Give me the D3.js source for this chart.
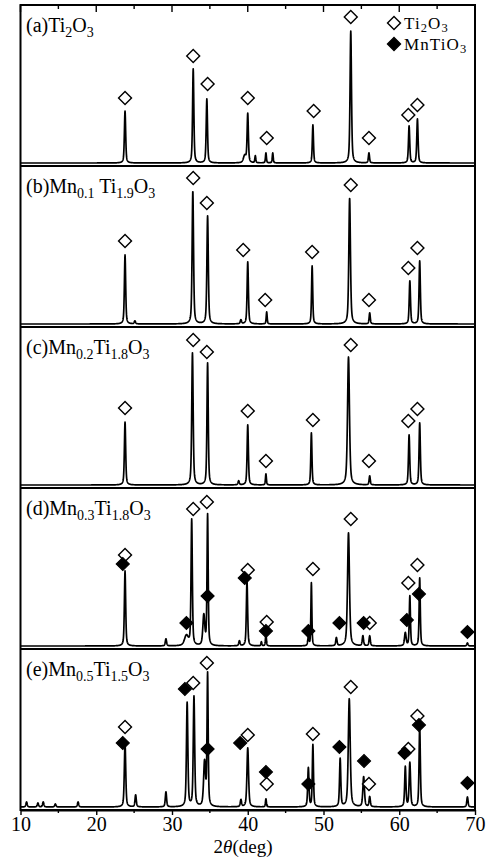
<!DOCTYPE html>
<html>
<head>
<meta charset="utf-8">
<script src="https://cdn.jsdelivr.net/npm/d3@7"></script>
<style>
  body { margin: 0; background: #fff; }
  svg { display: block; }
  text { font-family: "Liberation Serif", "Times New Roman", serif; fill: #000; }
</style>
</head>
<body>
<svg id="chart" width="487" height="863"></svg>
<script>
// ---- data -------------------------------------------------------------
const panelIds = ["a", "b", "c", "d", "e"];

// panel titles as [text, isSubscript] segments
const panelTitles = [
  [["(a)Ti", 0], ["2", 1], ["O", 0], ["3", 1]],
  [["(b)Mn", 0], ["0.1", 1], [" Ti", 0], ["1.9", 1], ["O", 0], ["3", 1]],
  [["(c)Mn", 0], ["0.2", 1], ["Ti", 0], ["1.8", 1], ["O", 0], ["3", 1]],
  [["(d)Mn", 0], ["0.3", 1], ["Ti", 0], ["1.8", 1], ["O", 0], ["3", 1]],
  [["(e)Mn", 0], ["0.5", 1], ["Ti", 0], ["1.5", 1], ["O", 0], ["3", 1]]
];

// diffraction peaks per sample: [2θ (deg), intensity, FWHM (deg)]
const peaksA = [
  [23.8, 52, 0.2], [32.8, 94, 0.2], [34.6, 64, 0.2], [39.6, 7, 0.4], [40.0, 49, 0.2],
  [41.0, 7, 0.15], [42.4, 10, 0.15], [43.3, 10, 0.15], [48.6, 38, 0.18],
  [53.6, 132, 0.22], [56.0, 10, 0.18], [61.3, 37, 0.2], [62.4, 44, 0.2]
];
const peaksB = [
  [23.8, 69, 0.2], [25.1, 3, 0.2], [32.75, 133, 0.22], [34.7, 108, 0.22], [39.1, 4, 0.2],
  [40.0, 62, 0.2], [42.5, 12, 0.15], [48.5, 58, 0.18], [53.45, 126, 0.25],
  [56.1, 11, 0.18], [61.4, 43, 0.2], [62.7, 63, 0.2]
];
const peaksC = [
  [23.8, 63, 0.2], [32.7, 132, 0.22], [34.7, 122, 0.2], [38.8, 4, 0.2], [40.0, 60, 0.2],
  [42.4, 11, 0.15], [48.4, 52, 0.18], [53.3, 128, 0.3], [56.1, 9, 0.18],
  [61.3, 50, 0.2], [62.7, 62, 0.2]
];
const peaksD = [
  [23.8, 75, 0.2], [29.2, 7, 0.2], [31.9, 10, 0.6], [32.6, 126, 0.2], [34.2, 30, 0.3],
  [34.7, 131, 0.18], [38.9, 5, 0.2], [39.9, 65, 0.2], [41.8, 4, 0.15], [42.4, 12, 0.15],
  [48.0, 8, 0.2], [48.4, 63, 0.15], [51.7, 8, 0.2], [53.3, 113, 0.3], [55.2, 10, 0.2],
  [56.1, 10, 0.2], [60.8, 13, 0.25], [61.4, 50, 0.18], [62.7, 68, 0.18], [69.0, 3, 0.2]
];
const peaksE = [
  [10.8, 5, 0.2], [12.3, 4, 0.2], [13.0, 5, 0.2], [14.6, 3, 0.2], [17.6, 5, 0.2],
  [23.8, 64, 0.22], [25.2, 12, 0.2], [29.2, 15, 0.2], [32.0, 104, 0.22], [32.9, 110, 0.22],
  [34.3, 44, 0.3], [34.7, 132, 0.18], [39.1, 7, 0.2], [40.0, 59, 0.25], [42.4, 8, 0.15],
  [48.0, 39, 0.2], [48.6, 62, 0.18], [52.2, 48, 0.2], [53.4, 108, 0.3], [55.3, 30, 0.25],
  [56.1, 10, 0.2], [60.8, 40, 0.2], [61.4, 44, 0.22], [62.7, 81, 0.2], [69.0, 10, 0.2]
];
const panelPeaks = [peaksA, peaksB, peaksC, peaksD, peaksE];

// phase markers: [2θ (deg), marker level]
const ti2o3A = [[23.8, 65], [32.8, 107], [34.7, 79], [40.0, 65], [42.5, 25], [48.7, 52], [53.6, 146], [56.0, 25], [61.2, 48], [62.4, 58]];
const ti2o3B = [[23.8, 83], [32.8, 146], [34.6, 121], [39.4, 74], [42.3, 24], [48.5, 72], [53.6, 139], [56.0, 24], [61.2, 56], [62.4, 76]];
const ti2o3C = [[23.8, 77], [32.8, 145], [34.6, 133], [40.0, 74], [42.4, 24], [48.6, 65], [53.6, 140], [56.0, 24], [61.2, 64], [62.4, 76]];
const ti2o3D = [[23.8, 91], [32.8, 137], [34.6, 144], [40.0, 76], [42.5, 24], [48.6, 77], [53.6, 127], [56.1, 23], [61.2, 63], [62.4, 81]];
const ti2o3E = [[23.8, 80], [32.8, 124], [34.6, 144], [40.0, 72], [42.5, 23], [48.6, 73], [53.6, 120], [56.0, 23], [61.2, 58], [62.4, 91]];
const mntio3D = [[23.5, 82], [31.9, 23], [34.7, 50], [39.6, 68], [42.4, 15], [48.0, 15], [52.1, 23], [55.3, 23], [61.0, 26], [62.6, 52], [69.0, 14]];
const mntio3E = [[23.5, 64], [31.7, 118], [34.7, 58], [39.0, 64], [42.4, 35], [48.0, 23], [52.1, 60], [55.35, 46], [60.7, 54], [62.6, 82], [69.0, 24]];
const panelTi2O3 = [ti2o3A, ti2o3B, ti2o3C, ti2o3D, ti2o3E];
const panelMnTiO3 = [[], [], [], mntio3D, mntio3E];

const xMajorTicks = [10, 20, 30, 40, 50, 60, 70];
const xMinorTicks = [15, 25, 35, 45, 55, 65];
const xTitle = [["2", "normal"], ["θ", "italic"], ["(deg)", "normal"]];
const legendItems = [
  { filled: false, parts: [["Ti", 0], ["2", 1], ["O", 0], ["3", 1]] },
  { filled: true, parts: [["MnTiO", 0], ["3", 1]] }
];

// ---- layout -----------------------------------------------------------
const svg = d3.select("#chart");
const plotLeft = 20.5, plotRight = 475, plotTop = 5, plotBottom = 810;
const x = d3.scaleLinear().domain([10, 70]).range([plotLeft, plotRight]);
const band = d3.scaleBand().domain(panelIds).range([plotTop, plotBottom]);
const fontSize = 20, subSize = 14;

// pseudo-Voigt profile summed over peaks
function profile(peaks, t) {
  let s = 0;
  for (const [c, h, w] of peaks) {
    const d = (t - c) / (w / 2);
    const g = Math.exp(-Math.LN2 * d * d);
    const l = 1 / (1 + d * d);
    s += h * (0.5 * g + 0.5 * l);
  }
  return s;
}
const grid = d3.range(10, 70.0001, 0.02);

const diamond = d3.symbol().type(d3.symbolSquare).size(84);

function addRich(sel, parts, size, sub, shift) {
  let lowered = false;
  parts.forEach(([t, isSub]) => {
    const ts = sel.append("tspan").text(t);
    if (isSub) {
      ts.attr("font-size", sub);
      if (!lowered) ts.attr("dy", shift);
      lowered = true;
    } else {
      ts.attr("font-size", size);
      if (lowered) ts.attr("dy", -shift);
      lowered = false;
    }
  });
}

const defs = svg.append("defs");

panelIds.forEach((id, i) => {
  const y0 = band(id), y1 = y0 + band.bandwidth();
  const y = d3.scaleLinear().domain([0, 158]).range([y1 - 3, y1 - 161]);
  const g = svg.append("g");

  defs.append("clipPath").attr("id", "clip-" + id)
    .append("rect").attr("x", plotLeft).attr("y", y0)
    .attr("width", plotRight - plotLeft).attr("height", y1 - y0);

  const line = d3.line().x(t => x(t)).y(t => y(profile(panelPeaks[i], t)));
  g.append("path")
    .attr("clip-path", "url(#clip-" + id + ")")
    .attr("d", line(grid))
    .attr("fill", "none")
    .attr("stroke", "#000")
    .attr("stroke-width", 1.7)
    .attr("stroke-linejoin", "round");

  g.selectAll(".open").data(panelTi2O3[i]).join("path")
    .attr("class", "open")
    .attr("d", diamond)
    .attr("transform", d => `translate(${x(d[0])},${y(d[1])}) rotate(45)`)
    .attr("fill", "#fff").attr("stroke", "#000").attr("stroke-width", 1.4);

  g.selectAll(".solid").data(panelMnTiO3[i]).join("path")
    .attr("class", "solid")
    .attr("d", diamond)
    .attr("transform", d => `translate(${x(d[0])},${y(d[1])}) rotate(45)`)
    .attr("fill", "#000").attr("stroke", "#000").attr("stroke-width", 1.2);

  const title = g.append("text").attr("x", 26).attr("y", y0 + 27);
  addRich(title, panelTitles[i], fontSize, subSize, 4.5);

  if (i < panelIds.length - 1) {
    svg.append("line").attr("x1", plotLeft).attr("x2", plotRight).attr("y1", y1).attr("y2", y1)
      .attr("stroke", "#000").attr("stroke-width", 2);
  }
});

// legend
legendItems.forEach((item, k) => {
  const ly = 23 + k * 21;
  svg.append("path").attr("d", diamond)
    .attr("transform", `translate(${394},${ly}) rotate(45)`)
    .attr("fill", item.filled ? "#000" : "#fff")
    .attr("stroke", "#000").attr("stroke-width", 1.4);
  const t = svg.append("text").attr("x", 404).attr("y", ly + 6)
    .attr("letter-spacing", 1.1);
  addRich(t, item.parts, 17, 12.5, 2.5);
});

// frame
svg.append("rect").attr("x", plotLeft).attr("y", plotTop)
  .attr("width", plotRight - plotLeft).attr("height", plotBottom - plotTop)
  .attr("fill", "none").attr("stroke", "#000").attr("stroke-width", 2);

// top ticks (inward)
svg.selectAll(".tmaj").data(xMajorTicks).join("line")
  .attr("x1", d => x(d)).attr("x2", d => x(d)).attr("y1", plotTop).attr("y2", plotTop + 7)
  .attr("stroke", "#000").attr("stroke-width", 1.4);
svg.selectAll(".tmin").data(xMinorTicks).join("line")
  .attr("x1", d => x(d)).attr("x2", d => x(d)).attr("y1", plotTop).attr("y2", plotTop + 4)
  .attr("stroke", "#000").attr("stroke-width", 1.4);

// bottom axis (outward ticks)
const axis = d3.axisBottom(x).tickValues(xMajorTicks).tickSize(5).tickSizeOuter(0).tickPadding(2)
  .tickFormat(d3.format("d"));
const ax = svg.append("g").attr("transform", `translate(0,${plotBottom})`).call(axis);
ax.select(".domain").attr("stroke-width", 2);
ax.selectAll(".tick line").attr("stroke-width", 1.4);
ax.selectAll(".tick text").attr("font-family", "Liberation Serif, serif")
  .attr("font-size", fontSize).attr("fill", "#000");
svg.selectAll(".bmin").data(xMinorTicks).join("line")
  .attr("x1", d => x(d)).attr("x2", d => x(d)).attr("y1", plotBottom).attr("y2", plotBottom + 3)
  .attr("stroke", "#000").attr("stroke-width", 1.4);

const xt = svg.append("text").attr("x", 243).attr("y", 853).attr("text-anchor", "middle")
  .attr("font-size", 19);
xTitle.forEach(([t, style]) => xt.append("tspan").text(t).attr("font-style", style));
</script>
</body>
</html>
